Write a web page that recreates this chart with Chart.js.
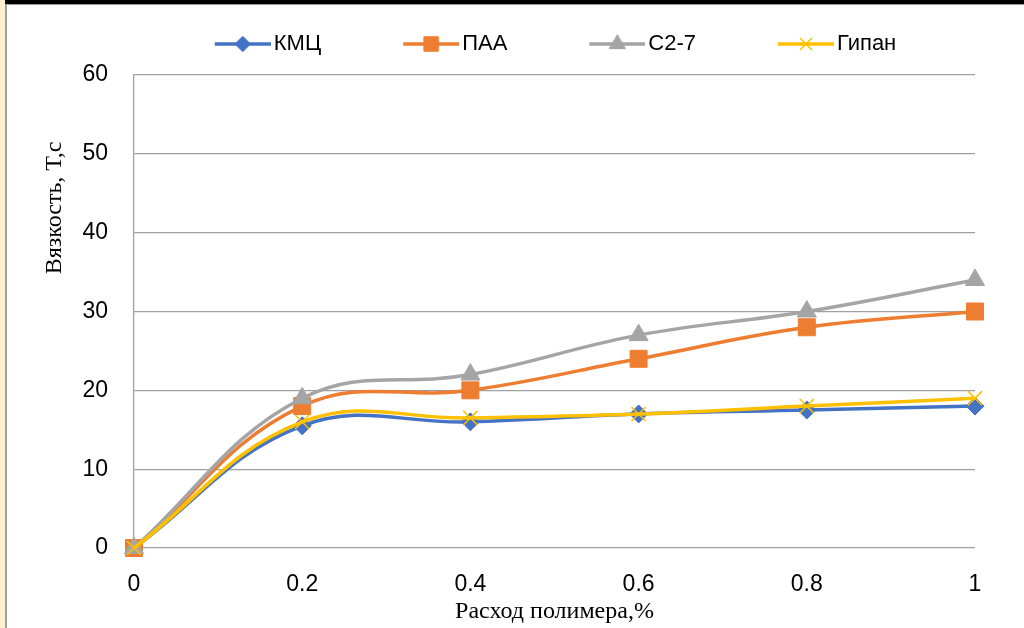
<!DOCTYPE html>
<html>
<head>
<meta charset="utf-8">
<script src="https://cdn.jsdelivr.net/npm/chart.js@4/dist/chart.umd.min.js"></script>
<style>
  body { margin: 0; background: #fff; }
  #wrap { position: relative; width: 1024px; height: 628px; overflow: hidden; }
  canvas { position: absolute; left: 0; top: 0; }
  .frame-top { position: absolute; left: 5px; top: 0; width: 1019px; height: 4px; background: #000; }
  .frame-top-line { position: absolute; left: 5px; top: 4px; width: 1019px; height: 1px; background: #9a9a9a; }
  .frame-left { position: absolute; left: 0; top: 0; width: 5px; height: 628px; background: #fff2cc; }
  .frame-left-line { position: absolute; left: 5px; top: 4px; width: 2px; height: 624px; background: #a0a0a0; }
</style>
</head>
<body>
<div id="wrap">
  <canvas id="chart" width="1024" height="628"></canvas>
  <div class="frame-left"></div>
  <div class="frame-top"></div>
  <div class="frame-top-line"></div>
  <div class="frame-left-line"></div>
</div>
<script>
// polymer consumption, %
const xValues = [0, 0.2, 0.4, 0.6, 0.8, 1];

const seriesNames = ['КМЦ', 'ПАА', 'С2-7', 'Гипан'];
const kmc   = [0, 15.5, 16, 17, 17.5, 18];
const paa   = [0, 18, 20, 24, 28, 30];
const c27   = [0, 19, 22, 27, 30, 34];
const gipan = [0, 16, 16.5, 17, 18, 19];

const yTicks = [0, 10, 20, 30, 40, 50, 60];
const xTicks = [0, 0.2, 0.4, 0.6, 0.8, 1];

const xTitle = 'Расход полимера,%';
const yTitle = 'Вязкость, Т,с';

const colors = ['#4472C4', '#ED7D31', '#A5A5A5', '#FFC000'];
const pointStyles = ['rectRot', 'rect', 'triangle', 'crossRot'];
const pointRadii = [9, 12, 11, 10];

const allSeries = [kmc, paa, c27, gipan];

// legend icons: line with the marker in the middle (Excel style)
const legendIcons = allSeries.map((s, i) => {
  const c = document.createElement('canvas');
  c.width = 136;
  c.height = 26;
  const g = c.getContext('2d');
  g.strokeStyle = colors[i];
  g.lineWidth = 3.5;
  g.beginPath();
  g.moveTo(80, 13);
  g.lineTo(136, 13);
  g.stroke();
  g.fillStyle = colors[i];
  g.lineWidth = i === 3 ? 1.5 : 1;
  Chart.helpers.drawPoint(g, {
    pointStyle: pointStyles[i],
    radius: pointRadii[i] * 0.85,
    borderWidth: g.lineWidth,
    rotation: 0
  }, 108, 13);
  return c;
});

const yTitlePlugin = {
  id: 'yTitle',
  afterDraw(chart) {
    const ctx = chart.ctx;
    ctx.save();
    ctx.translate(55, 208);
    ctx.rotate(-Math.PI / 2);
    ctx.font = '24px "Liberation Serif", "Times New Roman", serif';
    ctx.fillStyle = '#000';
    ctx.textAlign = 'center';
    ctx.textBaseline = 'middle';
    ctx.fillText(yTitle, 0, 0);
    ctx.restore();
  }
};

const datasets = allSeries.map((s, i) => ({
  label: seriesNames[i],
  data: s.map((v, j) => ({ x: xValues[j], y: v })),
  borderColor: colors[i],
  backgroundColor: colors[i],
  borderWidth: 3.5,
  tension: 0.4,
  clip: false,
  pointStyle: pointStyles[i],
  pointRadius: pointRadii[i],
  pointBorderWidth: i === 3 ? 1.5 : 1,
  pointBorderColor: colors[i],
  pointBackgroundColor: colors[i],
  order: 4 - i
}));

new Chart(document.getElementById('chart'), {
  type: 'line',
  data: { datasets: datasets },
  options: {
    responsive: false,
    animation: false,
    devicePixelRatio: 1,
    layout: { padding: { left: 64, right: 49, top: 23, bottom: 0 } },
    plugins: {
      tooltip: { enabled: false },
      legend: {
        position: 'top',
        labels: {
          usePointStyle: true,
          pointStyleWidth: 120,
          padding: 10,
          color: '#000',
          font: { family: '"Liberation Sans", Arial, sans-serif', size: 22 },
          sort: (a, b) => a.datasetIndex - b.datasetIndex,
          generateLabels: (chart) =>
            Chart.defaults.plugins.legend.labels.generateLabels(chart).map(item => ({
              ...item,
              pointStyle: legendIcons[item.datasetIndex]
            }))
        }
      }
    },
    scales: {
      x: {
        type: 'linear',
        position: 'bottom',
        min: 0,
        max: 1,
        afterBuildTicks: (scale) => { scale.ticks = xTicks.map(v => ({ value: v })); },
        afterFit: (scale) => { scale.height = 80; },
        grid: { display: false, drawTicks: false },
        border: { display: false },
        ticks: {
          padding: 23,
          color: '#000',
          font: { family: '"Liberation Sans", Arial, sans-serif', size: 23 },
          callback: (v) => (v === 0 || v === 1) ? String(v) : v.toFixed(1)
        },
        title: {
          display: true,
          text: xTitle,
          color: '#000',
          font: { family: '"Liberation Serif", "Times New Roman", serif', size: 24 },
          padding: { top: 0, bottom: 2 }
        }
      },
      xTop: {
        type: 'linear',
        position: 'top',
        grid: { display: false, drawTicks: false },
        border: { display: false },
        ticks: { display: false },
        afterFit: (scale) => { scale.height = 10; }
      },
      y: {
        min: 0,
        max: 60,
        afterBuildTicks: (scale) => { scale.ticks = yTicks.map(v => ({ value: v })); },
        afterFit: (scale) => { scale.width = 70; },
        grid: { color: '#a0a0a0', lineWidth: 1.3, drawTicks: false },
        border: { display: true, color: '#a0a0a0', width: 1.3 },
        ticks: {
          padding: 26,
          color: '#000',
          font: { family: '"Liberation Sans", Arial, sans-serif', size: 23 }
        }
      }
    }
  },
  plugins: [yTitlePlugin]
});
</script>
</body>
</html>
